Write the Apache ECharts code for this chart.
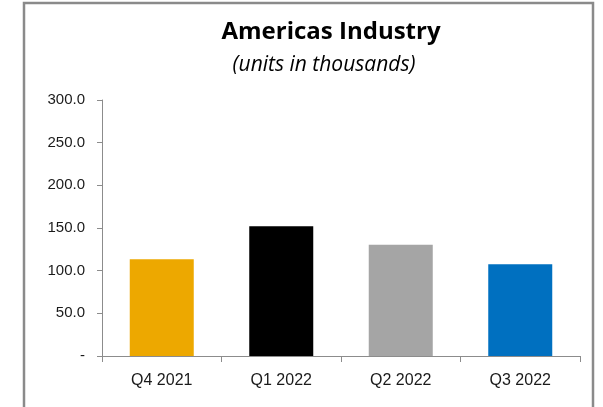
<!DOCTYPE html>
<html>
<head>
<meta charset="utf-8">
<script src="https://cdn.jsdelivr.net/npm/echarts@6/dist/echarts.min.js"></script>
<style>
  html, body { margin: 0; padding: 0; background: #fff; }
  #chart { width: 603px; height: 407px; }
</style>
</head>
<body>
<div id="chart"></div>
<script>
// Quarterly unit volumes (thousands)
const quarters = ['Q4 2021', 'Q1 2022', 'Q2 2022', 'Q3 2022'];
const units = [113.5, 152.0, 130.5, 107.5];
const barColors = ['#EDA800', '#000000', '#A5A5A5', '#0070C0'];
const yTicks = { min: 0, max: 300, step: 50 };

const chart = echarts.init(document.getElementById('chart'), null, { renderer: 'canvas' });

chart.setOption({
  backgroundColor: '#ffffff',
  animation: false,
  title: [
    {
      text: 'Americas Industry',
      left: 326, top: 15, textAlign: 'center',
      textStyle: { fontFamily: 'Open Sans', fontWeight: 'bold', fontSize: 24, color: '#000' }
    },
    {
      text: '(units in thousands)',
      left: 319, top: 50, textAlign: 'center',
      textStyle: { fontFamily: 'Open Sans', fontStyle: 'italic', fontWeight: 'normal', fontSize: 21, color: '#000' }
    }
  ],
  graphic: [
    {
      type: 'rect',
      shape: { x: 24, y: 3, width: 569, height: 420 },
      style: { fill: 'none', stroke: '#8a8a8a', lineWidth: 2.5 },
      silent: true
    }
  ],
  grid: { left: 102, right: 23, top: 100, bottom: 51, containLabel: false },
  xAxis: {
    type: 'category',
    data: quarters,
    axisLine: { lineStyle: { color: '#8c8c8c', width: 1 } },
    axisTick: { show: true, alignWithLabel: false, length: 6, lineStyle: { color: '#8c8c8c' } },
    axisLabel: { color: '#1a1a1a', fontFamily: 'Liberation Sans', fontSize: 16, margin: 17 }
  },
  yAxis: {
    type: 'value',
    min: yTicks.min, max: yTicks.max, interval: yTicks.step,
    axisLine: { show: true, lineStyle: { color: '#8c8c8c', width: 1 } },
    axisTick: { show: true, length: 5, lineStyle: { color: '#8c8c8c' } },
    splitLine: { show: false },
    axisLabel: {
      color: '#1a1a1a', fontFamily: 'Liberation Sans', fontSize: 15, margin: 17,
      formatter: v => (v === 0 ? '-' : v.toFixed(1))
    }
  },
  series: [
    {
      type: 'bar',
      data: units.map((v, i) => ({ value: v, itemStyle: { color: barColors[i] } })),
      barWidth: 64
    }
  ]
});
</script>
</body>
</html>
